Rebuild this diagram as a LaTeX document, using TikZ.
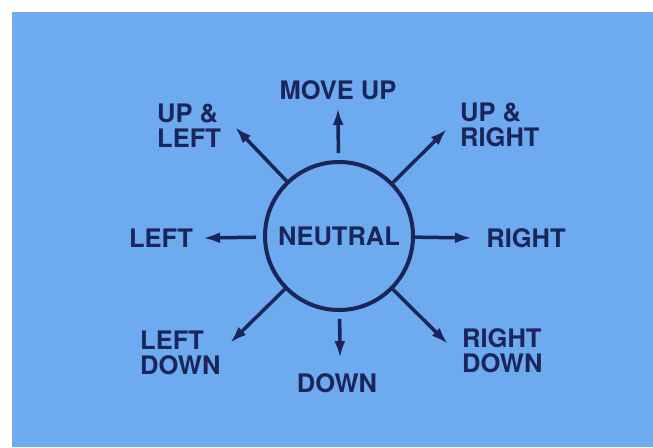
\documentclass[tikz,border=0pt]{standalone}
\usepackage{fontspec}
\setmainfont{TeX Gyre Heros}
\usetikzlibrary{arrows.meta}
\definecolor{bg}{RGB}{110,170,240}
\definecolor{ink}{RGB}{26,38,90}
\begin{document}
\begin{tikzpicture}[x=1pt,y=-1pt,
  lbl/.style={font=\bfseries\fontsize{25.5}{25}\selectfont, text=ink, inner sep=0pt, align=left},
  arr/.style={draw=ink, line width=3.5pt, -{Latex[length=17pt,width=11pt]}}]
\useasboundingbox (0,0) rectangle (653,447);
\fill[white] (0,0) rectangle (653,447);
\fill[bg] (12,12) rectangle (653,447);
\node[circle, draw=ink, line width=4pt, minimum size=148pt, inner sep=0pt, lbl] (n) at (339,236) {NEUTRAL};
\coordinate (tU) at (338,108);
\coordinate (tD) at (340,358);
\coordinate (tL) at (203,238);
\coordinate (tR) at (472,238);
\coordinate (tUL) at (235,127);
\coordinate (tUR) at (447,129);
\coordinate (tDL) at (230,343);
\coordinate (tDR) at (448,344);
\draw[arr, shorten <=7pt] (n) -- (tU);
\draw[arr, shorten <=7pt] (n) -- (tD);
\draw[arr, shorten <=7pt] (n) -- (tL);
\draw[arr] (n) -- (tR);
\draw[arr] (n) -- (tUL);
\draw[arr] (n) -- (tUR);
\draw[arr] (n) -- (tDL);
\draw[arr] (n) -- (tDR);
\node[lbl] (mu) at (338,90) {MOVE UP};
\node[lbl, anchor=west] (ul) at (157,126) {UP \&\\LEFT};
\node[lbl, anchor=west] (ur) at (460,125) {UP \&\\RIGHT};
\node[lbl] (l) at (161,238) {LEFT};
\node[lbl] (r) at (526,238) {RIGHT};
\node[lbl, anchor=west] (dl) at (140,353) {LEFT\\DOWN};
\node[lbl, anchor=west] (dr) at (462,351) {RIGHT\\DOWN};
\node[lbl] (d) at (337,383) {DOWN};
\end{tikzpicture}
\end{document}
